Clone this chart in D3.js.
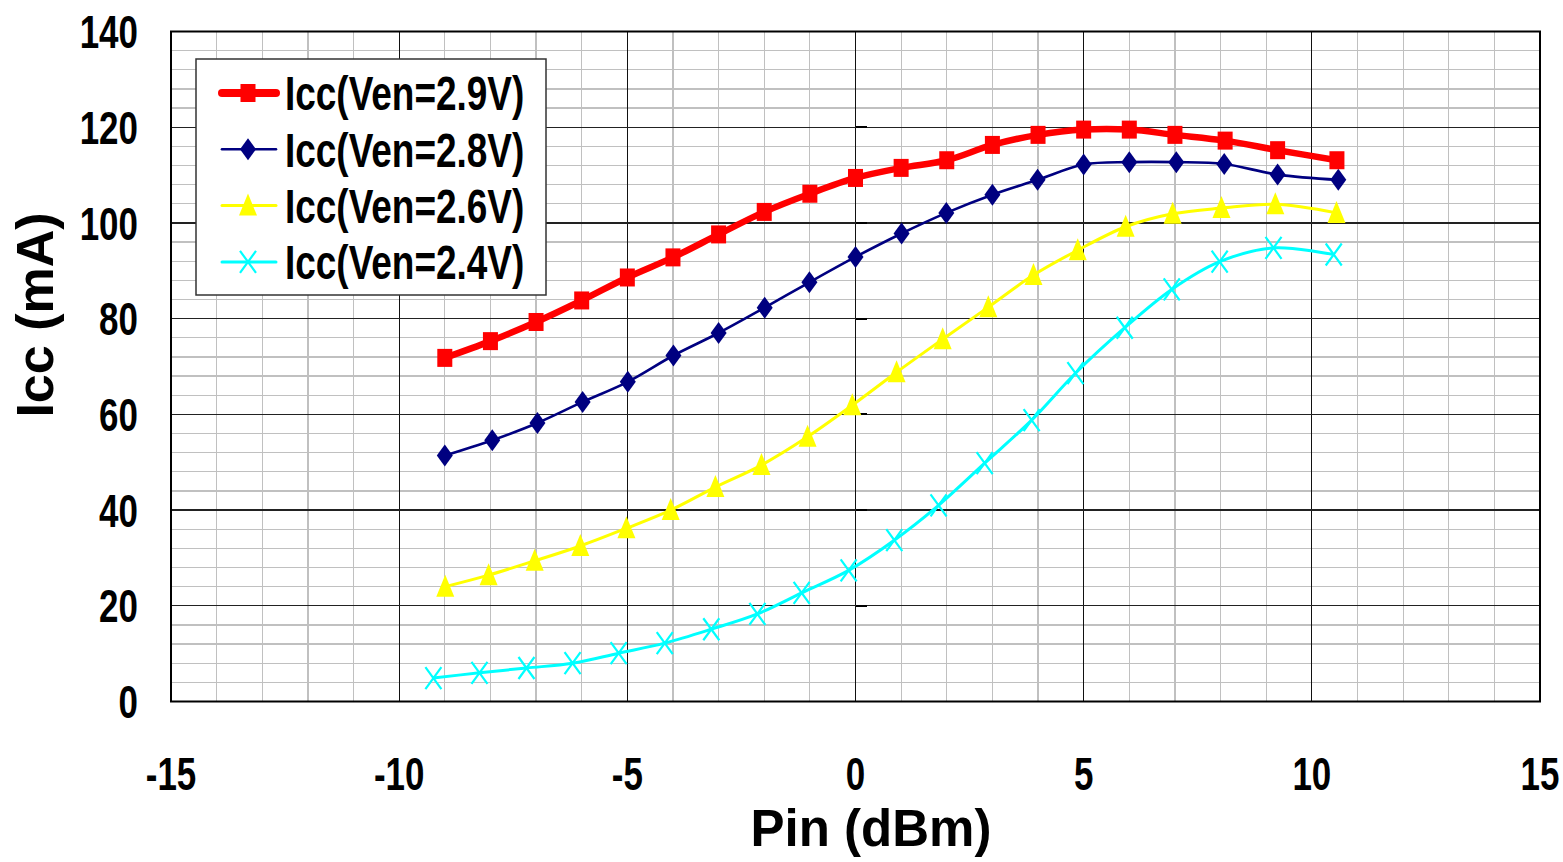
<!DOCTYPE html>
<html><head><meta charset="utf-8">
<script src="https://cdn.jsdelivr.net/npm/d3@7"></script>
<style>body{margin:0;background:#fff}svg{display:block}</style>
</head><body><svg id="c" width="1563" height="862"></svg>
<script>
// ---- data ----
const xTicks = [-15,-10,-5,0,5,10,15];
const yTicks = [0,20,40,60,80,100,120,140];
const seriesNames = ["Icc(Ven=2.9V)","Icc(Ven=2.8V)","Icc(Ven=2.6V)","Icc(Ven=2.4V)"];
const x29 = [-9,-8,-7,-6,-5,-4,-3,-2,-1,0,1,2,3,4,5,6,7,8.1,9.25,10.55];
const y29 = [71.8,75.3,79.3,83.8,88.6,92.8,97.6,102.3,106.1,109.4,111.5,113.1,116.3,118.4,119.5,119.5,118.4,117.2,115.2,113.1];
const x28 = [-9,-7.96,-6.97,-5.98,-4.99,-3.99,-3,-1.99,-1.01,0,1.01,1.99,3,3.99,5,6,7.03,8.08,9.25,10.58];
const y28 = [51.4,54.6,58.2,62.6,66.8,72.3,77.0,82.3,87.6,92.9,97.8,102.1,105.9,109.0,112.2,112.7,112.7,112.3,110.1,109.0];
const x26 = [-8.99,-8.04,-7.03,-6.03,-5.02,-4.05,-3.07,-2.06,-1.05,-0.07,0.9,1.91,2.91,3.9,4.87,5.92,6.95,8.02,9.2,10.54];
const y26 = [24.0,26.4,29.4,32.5,36.2,40.0,44.8,49.4,55.3,61.9,68.8,75.7,82.4,89.1,94.3,99.2,101.9,103.1,103.9,102.1];
const x24 = [-9.25,-8.24,-7.21,-6.2,-5.19,-4.18,-3.16,-2.15,-1.18,-0.15,0.85,1.82,2.83,3.86,4.82,5.9,6.93,7.98,9.16,10.48];
const y24 = [4.9,6.0,7.0,8.0,10.1,12.2,15.1,18.3,22.7,27.4,33.7,41.0,49.8,58.8,68.6,78.1,86.1,91.9,94.8,93.4];

const colors = ["#ff0000","#000080","#ffff00","#00ffff"];
const symbols = ["square","diamond","triangle","cross"];
const widths = [6.5,2.6,3,3];
const xs = [x29,x28,x26,x24], ysArr = [y29,y28,y26,y24];
const series = seriesNames.map((n,i)=>({name:n,color:colors[i],sym:symbols[i],w:widths[i],
  pts:xs[i].map((v,j)=>[v,ysArr[i][j]])}));

// ---- layout ----
const L=171, R=1540, T=31.5, B=701.5;
const x = d3.scaleLinear().domain([-15,15]).range([L,R]);
const y = d3.scaleLinear().domain([0,140]).range([B,T]);
const svg = d3.select("#c");
const FONT = "'Liberation Sans', Arial, sans-serif";

// grid minor
const g = svg.append("g");
g.selectAll("line.mx").data(d3.range(-15,16,1).filter(v=>v%5!==0)).join("line")
  .attr("x1",d=>x(d)).attr("x2",d=>x(d)).attr("y1",T).attr("y2",B)
  .attr("stroke","#c0c0c0").attr("stroke-width",1.2).attr("shape-rendering","crispEdges");
g.selectAll("line.my").data(d3.range(0,141,4).filter(v=>v%20!==0)).join("line")
  .attr("x1",L).attr("x2",R).attr("y1",d=>y(d)).attr("y2",d=>y(d))
  .attr("stroke","#c0c0c0").attr("stroke-width",1.2).attr("shape-rendering","crispEdges");
// major
g.selectAll("line.Mx").data(xTicks.slice(1,-1)).join("line")
  .attr("x1",d=>x(d)).attr("x2",d=>x(d)).attr("y1",T).attr("y2",B)
  .attr("stroke","#111").attr("stroke-width",1.2).attr("shape-rendering","crispEdges");
g.selectAll("line.My").data(yTicks.slice(1,-1)).join("line")
  .attr("x1",L).attr("x2",R).attr("y1",d=>y(d)).attr("y2",d=>y(d))
  .attr("stroke","#222").attr("stroke-width",1.2).attr("shape-rendering","crispEdges");
// stubs at x=0
g.selectAll("line.st").data(yTicks.slice(1,-1)).join("line")
  .attr("x1",x(0)).attr("x2",x(0)+11).attr("y1",d=>y(d)).attr("y2",d=>y(d))
  .attr("stroke","#000").attr("stroke-width",2).attr("shape-rendering","crispEdges");
// border
svg.append("rect").attr("x",L).attr("y",T).attr("width",R-L).attr("height",B-T)
  .attr("fill","none").attr("stroke","#000").attr("stroke-width",2);

// tick labels (condensed)
const yl = svg.append("g");
yTicks.forEach(v=>{
  yl.append("g").attr("transform",`translate(138,${y(v)}) scale(0.76,1)`)
    .append("text").attr("text-anchor","end").attr("dy","0.36em")
    .attr("font-family",FONT).attr("font-weight","bold").attr("font-size",46).text(v);
});
xTicks.forEach(v=>{
  yl.append("g").attr("transform",`translate(${x(v)},790) scale(0.76,1)`)
    .append("text").attr("text-anchor","middle")
    .attr("font-family",FONT).attr("font-weight","bold").attr("font-size",46).text(v);
});
// titles
svg.append("text").attr("x",871).attr("y",846).attr("text-anchor","middle")
  .attr("font-family",FONT).attr("font-weight","bold").attr("font-size",51).text("Pin (dBm)");
svg.append("text").attr("transform","translate(53,315) rotate(-90)").attr("text-anchor","middle")
  .attr("font-family",FONT).attr("font-weight","bold").attr("font-size",52).text("Icc (mA)");

// markers
function marker(sel, s){
  if(s.sym==="square"){
    sel.append("rect").attr("x",-7.5).attr("y",-9).attr("width",15).attr("height",18).attr("fill",s.color);
  } else if(s.sym==="diamond"){
    sel.append("path").attr("d","M0,-11L8,0L0,11L-8,0Z").attr("fill",s.color);
  } else if(s.sym==="triangle"){
    sel.append("path").attr("d","M0,-12L9,10L-9,10Z").attr("fill",s.color);
  } else {
    sel.append("path").attr("d","M-8,-11L8,11M-8,11L8,-11").attr("stroke",s.color).attr("stroke-width",2.2).attr("fill","none");
  }
}
const line = d3.line().x(d=>x(d[0])).y(d=>y(d[1])).curve(d3.curveCatmullRom.alpha(0.5));
const sg = svg.append("g");
series.slice().reverse().forEach(s=>{
  sg.append("path").datum(s.pts).attr("d",line).attr("fill","none")
    .attr("stroke",s.color).attr("stroke-width",s.w).attr("stroke-linejoin","round");
  s.pts.forEach(p=>{
    marker(sg.append("g").attr("transform",`translate(${x(p[0])},${y(p[1])})`), s);
  });
});

// legend
const lg = svg.append("g");
lg.append("rect").attr("x",196).attr("y",59).attr("width",350).attr("height",236)
  .attr("fill","#fff").attr("stroke","#333").attr("stroke-width",1.5);
series.forEach((s,i)=>{
  const cy = 93 + i*56.3;
  lg.append("line").attr("x1",222).attr("x2",276).attr("y1",cy).attr("y2",cy)
    .attr("stroke",s.color).attr("stroke-width",s.sym==="square"?8:s.w).attr("stroke-linecap","round");
  marker(lg.append("g").attr("transform",`translate(248,${cy})`), s);
  lg.append("g").attr("transform",`translate(285,${cy}) scale(0.77,1)`)
    .append("text").attr("dy","0.36em").attr("font-family",FONT).attr("font-weight","bold")
    .attr("font-size",48).text(s.name);
});
</script></body></html>
